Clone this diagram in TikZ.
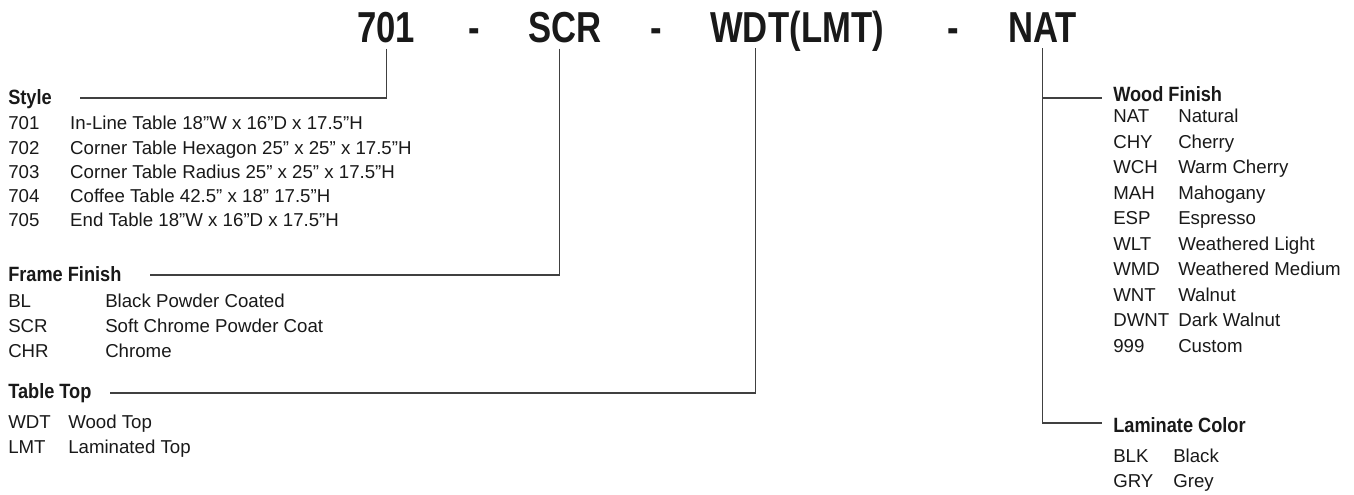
\documentclass[tikz,border=0pt]{standalone}
\usepackage{fontspec}
\setmainfont{Liberation Sans}
\newfontfamily\titlefont{Liberation Sans}[FakeStretch=0.8]
\newfontfamily\headfont{Liberation Sans}[FakeStretch=0.88]
\newcommand{\coderow}[3]{\makebox[#1][l]{#2}#3}

\begin{document}
\begin{tikzpicture}[x = 0.75pt, y = -0.75pt,
    title/.style = {anchor = base west, inner xsep = 0pt, inner ysep = 3.75pt, text = black!90,
        font = \titlefont\bfseries\fontsize{32.5}{36}\selectfont},
    head/.style = {anchor = base west, inner sep = 0pt, text = black!90,
        font = \headfont\bfseries\fontsize{15.5}{18}\selectfont},
    item/.style = {anchor = base west, inner sep = 0pt, text = black!90,
        font = \fontsize{14}{16}\selectfont},
    wire/.style = {draw = black!75, line width = .8pt}]
    \useasboundingbox (0, 0) rectangle (1354, 495);

    % part number
    \node [title] (t701) at (357, 43) {701};
    \node [title] (tdasha) at (468, 43) {-};
    \node [title] (tscr) at (528, 43) {SCR};
    \node [title] (tdashb) at (650, 43) {-};
    \node [title] (twdt) at (710, 43) {WDT};
    \node [title, anchor = base west] (tlmt) at (twdt.base east) {(LMT)};
    \node [title] (tdashc) at (947, 43) {-};
    \node [title] (tnat) at (1008, 43) {NAT};

    % style
    \node [head] (hstyle) at (8, 105) {Style};
    \node [item] (s701) at (8, 130) {\coderow{46.5pt}{701}{In-Line Table 18”W x 16”D x 17.5”H}};
    \node [item] (s702) at (8, 154.3) {\coderow{46.5pt}{702}{Corner Table Hexagon 25” x 25” x 17.5”H}};
    \node [item] (s703) at (8, 178.5) {\coderow{46.5pt}{703}{Corner Table Radius 25” x 25” x 17.5”H}};
    \node [item] (s704) at (8, 202.8) {\coderow{46.5pt}{704}{Coffee Table 42.5” x 18” 17.5”H}};
    \node [item] (s705) at (8, 227) {\coderow{46.5pt}{705}{End Table 18”W x 16”D x 17.5”H}};

    % frame finish
    \node [head] (hframe) at (8, 282) {Frame Finish};
    \node [item] (fbl) at (8, 308) {\coderow{72.75pt}{BL}{Black Powder Coated}};
    \node [item] (fscr) at (8, 333) {\coderow{72.75pt}{SCR}{Soft Chrome Powder Coat}};
    \node [item] (fchr) at (8, 358) {\coderow{72.75pt}{CHR}{Chrome}};

    % table top
    \node [head] (htop) at (8, 398) {Table Top};
    \node [item] (pwdt) at (8, 428) {\coderow{45pt}{WDT}{Wood Top}};
    \node [item] (plmt) at (8, 453.5) {\coderow{45pt}{LMT}{Laminated Top}};

    % wood finish
    \node [head] (hwood) at (1113, 102) {Wood Finish};
    \node [item] (wnat) at (1113, 123) {\coderow{48.75pt}{NAT}{Natural}};
    \node [item] (wchy) at (1113, 148.5) {\coderow{48.75pt}{CHY}{Cherry}};
    \node [item] (wwch) at (1113, 174) {\coderow{48.75pt}{WCH}{Warm Cherry}};
    \node [item] (wmah) at (1113, 199.5) {\coderow{48.75pt}{MAH}{Mahogany}};
    \node [item] (wesp) at (1113, 225) {\coderow{48.75pt}{ESP}{Espresso}};
    \node [item] (wwlt) at (1113, 250.5) {\coderow{48.75pt}{WLT}{Weathered Light}};
    \node [item] (wwmd) at (1113, 276) {\coderow{48.75pt}{WMD}{Weathered Medium}};
    \node [item] (wwnt) at (1113, 301.5) {\coderow{48.75pt}{WNT}{Walnut}};
    \node [item] (wdwnt) at (1113, 327) {\coderow{48.75pt}{DWNT}{Dark Walnut}};
    \node [item] (w999) at (1113, 352.5) {\coderow{48.75pt}{999}{Custom}};

    % laminate color
    \node [head] (hlam) at (1113, 432) {Laminate Color};
    \node [item] (lblk) at (1113, 463) {\coderow{45pt}{BLK}{Black}};
    \node [item] (lgry) at (1113, 487) {\coderow{45pt}{GRY}{Grey}};

    % leader lines
    \coordinate (lstyle) at (80, 98);
    \coordinate (lframe) at (150, 275);
    \coordinate (ltop) at (110, 393);
    \coordinate (lwood) at (1102, 98);
    \coordinate (llam) at (1102, 423);
    \draw [wire] (t701.south) |- (lstyle);
    \draw [wire] ([xshift = -4pt]tscr.south) |- (lframe);
    \draw [wire] ([xshift = 4pt]twdt.south) |- (ltop);
    \draw [wire] (tnat.south) |- (llam);
    \draw [wire] (tnat.south |- lwood) -- (lwood);
\end{tikzpicture}
\end{document}
